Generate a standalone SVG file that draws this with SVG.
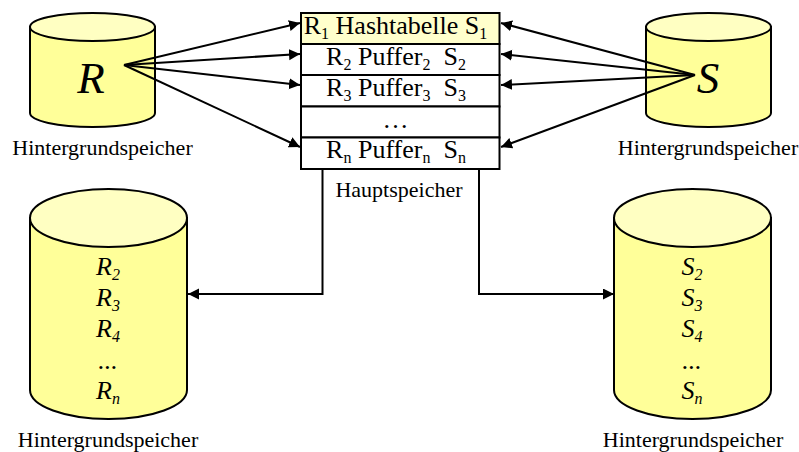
<svg xmlns="http://www.w3.org/2000/svg" width="799" height="452" viewBox="0 0 799 452">
<style>
text{font-family:"Liberation Serif","Times New Roman",serif;fill:#000;text-anchor:middle}
.lbl{font-size:22px}
.row{font-size:26px}
.sub{font-size:16px}
.big{font-size:45px;font-style:italic}
.it{font-size:26px;font-style:italic}
.its{font-size:16px;font-style:italic}
.body{fill:#ffff99;stroke:#000;stroke-width:2}
.top{fill:#ffffc2;stroke:#000;stroke-width:2}
.cell{fill:#fff;stroke:#000;stroke-width:2}
.hl{fill:#ffffcc}
.con{fill:none;stroke:#000;stroke-width:2;marker-end:url(#a)}
</style>
<defs>
<marker id="a" markerUnits="userSpaceOnUse" markerWidth="12" markerHeight="12" refX="11" refY="5.500" orient="auto"><path d="M0 0L11 5.500L0 11Z" fill="#000"/></marker>
</defs>
<g id="disk-r">
<path class="body" d="M30 27V113A62.500 14 0 0 0 155 113V27Z"/>
<ellipse class="top" cx="92.500" cy="27" rx="62.500" ry="14"/>
<text class="big" x="91" y="93">R</text>
<text class="lbl" x="102.500" y="154.500">Hintergrundspeicher</text>
</g>
<g id="disk-s">
<path class="body" d="M646 27V113A62.500 14 0 0 0 771 113V27Z"/>
<ellipse class="top" cx="708.500" cy="27" rx="62.500" ry="14"/>
<text class="big" x="708" y="93">S</text>
<text class="lbl" x="708" y="154.500">Hintergrundspeicher</text>
</g>
<g id="memory">
<rect class="cell hl" x="301" y="13" width="198.500" height="31"/>
<rect class="cell" x="301" y="44" width="198.500" height="31"/>
<rect class="cell" x="301" y="75" width="198.500" height="31.500"/>
<rect class="cell" x="301" y="106.500" width="198.500" height="31"/>
<rect class="cell" x="301" y="137.500" width="198.500" height="31.500"/>
<text class="row" x="395.500" y="33.500">R<tspan class="sub" dy="5">1</tspan><tspan dy="-5"> Hashtabelle S</tspan><tspan class="sub" dy="5">1</tspan></text>
<text class="row" x="396" y="65">R<tspan class="sub" dy="5">2</tspan><tspan dy="-5"> Puffer</tspan><tspan class="sub" dy="5">2</tspan><tspan dy="-5">&#160; S</tspan><tspan class="sub" dy="5">2</tspan></text>
<text class="row" x="396" y="96">R<tspan class="sub" dy="5">3</tspan><tspan dy="-5"> Puffer</tspan><tspan class="sub" dy="5">3</tspan><tspan dy="-5">&#160; S</tspan><tspan class="sub" dy="5">3</tspan></text>
<text class="row" x="395.500" y="128">…</text>
<text class="row" x="396" y="158">R<tspan class="sub" dy="5">n</tspan><tspan dy="-5"> Puffer</tspan><tspan class="sub" dy="5">n</tspan><tspan dy="-5">&#160; S</tspan><tspan class="sub" dy="5">n</tspan></text>
<text class="lbl" x="399" y="197">Hauptspeicher</text>
</g>
<g id="disk-r-out">
<path class="body" d="M30 218V390A78.500 29 0 0 0 187 390V218Z"/>
<ellipse class="top" cx="108.500" cy="218" rx="78.500" ry="29"/>
<text class="it" x="108" y="275">R<tspan class="its" dy="5">2</tspan></text>
<text class="it" x="108" y="306">R<tspan class="its" dy="5">3</tspan></text>
<text class="it" x="108" y="337">R<tspan class="its" dy="5">4</tspan></text>
<text class="it" x="108" y="369">...</text>
<text class="it" x="108" y="399">R<tspan class="its" dy="5">n</tspan></text>
<text class="lbl" x="108" y="447">Hintergrundspeicher</text>
</g>
<g id="disk-s-out">
<path class="body" d="M614 218V390A78.500 29 0 0 0 771 390V218Z"/>
<ellipse class="top" cx="692.500" cy="218" rx="78.500" ry="29"/>
<text class="it" x="692" y="275">S<tspan class="its" dy="5">2</tspan></text>
<text class="it" x="692" y="306">S<tspan class="its" dy="5">3</tspan></text>
<text class="it" x="692" y="337">S<tspan class="its" dy="5">4</tspan></text>
<text class="it" x="692" y="369">...</text>
<text class="it" x="692" y="399">S<tspan class="its" dy="5">n</tspan></text>
<text class="lbl" x="693" y="447">Hintergrundspeicher</text>
</g>
<g id="connectors">
<path class="con" d="M124 65L300 23"/>
<path class="con" d="M124 65L300 54"/>
<path class="con" d="M124 65L300 85"/>
<path class="con" d="M124 65L300 147"/>
<path class="con" d="M695 75L501 23"/>
<path class="con" d="M695 75L501 54"/>
<path class="con" d="M695 75L501 85"/>
<path class="con" d="M695 75L501 147"/>
<path class="con" d="M322.500 169V294H188"/>
<path class="con" d="M479 169V294H614"/>
</g>
</svg>
